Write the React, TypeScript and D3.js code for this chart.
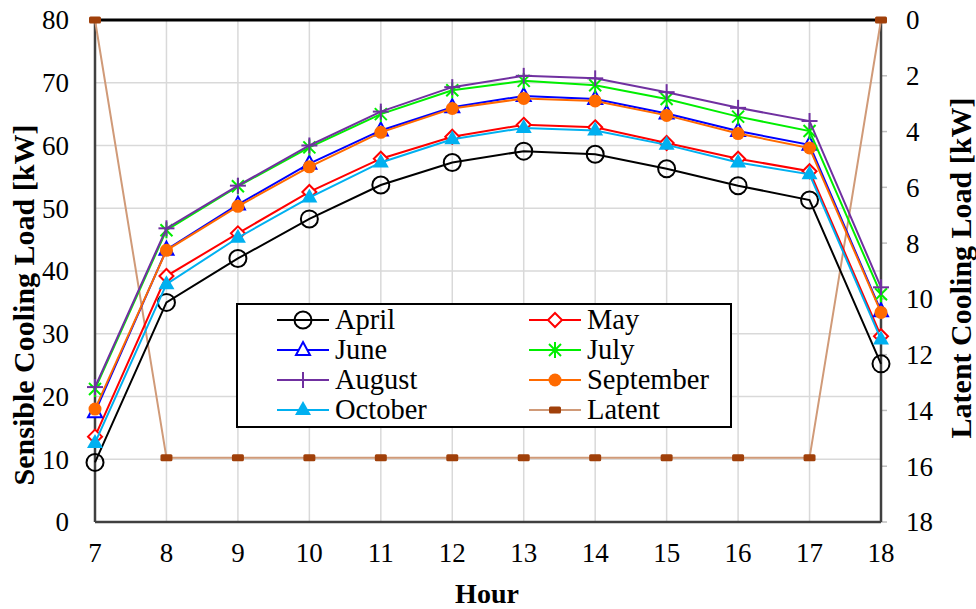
import React from "react";
import * as d3 from "d3";

const hours = [7, 8, 9, 10, 11, 12, 13, 14, 15, 16, 17, 18];
const april = [9.5, 35, 42, 48.3, 53.7, 57.3, 59.1, 58.6, 56.3, 53.6, 51.3, 25.2];
const may = [13.6, 39.2, 46, 52.6, 57.9, 61.4, 63.3, 62.9, 60.4, 57.9, 55.9, 29.6];
const june = [17.5, 43.4, 50.6, 57.1, 62.4, 66.1, 67.9, 67.4, 65.1, 62.3, 60.1, 33.6];
const july = [21.2, 46.5, 53.5, 59.7, 65.0, 68.8, 70.3, 69.6, 67.4, 64.6, 62.3, 36.3];
const august = [21.5, 46.8, 53.6, 60.0, 65.4, 69.3, 71.1, 70.7, 68.5, 66.0, 63.9, 37.4];
const september = [18.0, 43.3, 50.3, 56.6, 62.1, 65.9, 67.5, 67.1, 64.8, 61.9, 59.6, 33.4];
const october = [12.6, 37.9, 45.3, 51.7, 57.3, 61.0, 62.8, 62.4, 60.1, 57.3, 55.4, 29.1];
const latent = [0, 15.7, 15.7, 15.7, 15.7, 15.7, 15.7, 15.7, 15.7, 15.7, 15.7, 0];

const leftTicks = [0, 10, 20, 30, 40, 50, 60, 70, 80];
const rightTicks = [0, 2, 4, 6, 8, 10, 12, 14, 16, 18];

type Marker = "circle" | "diamond" | "triangle" | "asterisk" | "plus" | "dot" | "filledTriangle" | "square";

interface Series {
  name: string;
  values: number[];
  color: string;
  marker: Marker;
  lineColor?: string;
}

const series: Series[] = [
  { name: "April", values: april, color: "#000000", marker: "circle" },
  { name: "May", values: may, color: "#ff0000", marker: "diamond" },
  { name: "June", values: june, color: "#0000ff", marker: "triangle" },
  { name: "July", values: july, color: "#00ee00", marker: "asterisk" },
  { name: "August", values: august, color: "#7030a0", marker: "plus" },
  { name: "September", values: september, color: "#ff6a00", marker: "dot" },
  { name: "October", values: october, color: "#00b0f0", marker: "filledTriangle" },
];

const W = 976;
const H = 609;
const L = 95;
const R = 881;
const T = 20;
const B = 522;

const x = d3.scaleLinear().domain([7, 18]).range([L, R]);
const yL = d3.scaleLinear().domain([0, 80]).range([B, T]);
const yR = d3.scaleLinear().domain([0, 18]).range([T, B]);

const FONT = "Liberation Serif, Times New Roman, serif";
const txt = { fontFamily: FONT };

function MarkerShape({ type, cx, cy, color }: { type: Marker; cx: number; cy: number; color: string }) {
  switch (type) {
    case "circle":
      return <circle cx={cx} cy={cy} r={8.5} fill="none" stroke={color} strokeWidth={2} />;
    case "diamond":
      return (
        <path
          d={`M${cx},${cy - 7}L${cx + 7},${cy}L${cx},${cy + 7}L${cx - 7},${cy}Z`}
          fill="white"
          stroke={color}
          strokeWidth={2}
        />
      );
    case "triangle":
      return (
        <path
          d={`M${cx},${cy - 8}L${cx + 7},${cy + 5}L${cx - 7},${cy + 5}Z`}
          fill="white"
          stroke={color}
          strokeWidth={2}
        />
      );
    case "filledTriangle":
      return <path d={`M${cx},${cy - 9}L${cx + 8},${cy + 5}L${cx - 8},${cy + 5}Z`} fill={color} />;
    case "asterisk":
      return (
        <g stroke={color} strokeWidth={2}>
          <line x1={cx - 6} y1={cy - 6} x2={cx + 6} y2={cy + 6} />
          <line x1={cx - 6} y1={cy + 6} x2={cx + 6} y2={cy - 6} />
          <line x1={cx} y1={cy - 8} x2={cx} y2={cy + 8} />
        </g>
      );
    case "plus":
      return (
        <g stroke={color} strokeWidth={2}>
          <line x1={cx - 8} y1={cy} x2={cx + 8} y2={cy} />
          <line x1={cx} y1={cy - 8} x2={cx} y2={cy + 8} />
        </g>
      );
    case "dot":
      return <circle cx={cx} cy={cy} r={6.5} fill={color} />;
    case "square":
      return <rect x={cx - 6} y={cy - 3.5} width={12} height={7} rx={1.5} fill={color} />;
  }
}

export default function App() {
  const line = d3
    .line<number>()
    .x((_, i) => x(hours[i]))
    .y((v) => yL(v));
  const latentLine = d3
    .line<number>()
    .x((_, i) => x(hours[i]))
    .y((v) => yR(v));

  const legendRows = [
    [series[0], series[1]],
    [series[2], series[3]],
    [series[4], series[5]],
    [series[6], null],
  ];
  const latentLegend: Series = { name: "Latent", values: latent, color: "#a0400a", marker: "square", lineColor: "#d09a78" };

  return (
    <svg
      width={W}
      height={H}
      style={{ position: "absolute", left: 0, top: 0, background: "white", fontFamily: FONT }}
    >
      <rect width={W} height={H} fill="white" />
      {/* grid */}
      {leftTicks.map((t) => (
        <line key={"h" + t} x1={L} x2={R} y1={yL(t)} y2={yL(t)} stroke="#d9d9d9" strokeWidth={1.5} />
      ))}
      {hours.map((h) => (
        <line key={"v" + h} x1={x(h)} x2={x(h)} y1={T} y2={B} stroke="#d9d9d9" strokeWidth={1.5} />
      ))}
      {/* right axis minor ticks */}
      {rightTicks.map((t) => (
        <line key={"rt" + t} x1={R} x2={R + 6} y1={yR(t)} y2={yR(t)} stroke="#bfbfbf" strokeWidth={1.5} />
      ))}
      {/* frame */}
      <line x1={L} x2={L} y1={T} y2={B} stroke="#404040" strokeWidth={2.5} />
      <line x1={R} x2={R} y1={T} y2={B} stroke="#404040" strokeWidth={2.5} />
      <line x1={L} x2={R} y1={B} y2={B} stroke="#404040" strokeWidth={2.5} />
      <line x1={L} x2={R} y1={T} y2={T} stroke="#000" strokeWidth={3} />

      {/* latent load */}
      <path d={latentLine(latent) || ""} fill="none" stroke="#d09a78" strokeWidth={2} />
      {latent.map((v, i) => (
        <MarkerShape key={"lat" + i} type="square" cx={x(hours[i])} cy={yR(v)} color="#a0400a" />
      ))}

      {/* monthly sensible loads */}
      {series.map((s) => (
        <g key={s.name}>
          <path d={line(s.values) || ""} fill="none" stroke={s.color} strokeWidth={2} />
          {s.values.map((v, i) => (
            <MarkerShape key={i} type={s.marker} cx={x(hours[i])} cy={yL(v)} color={s.color} />
          ))}
        </g>
      ))}

      {/* tick labels */}
      {leftTicks.map((t) => (
        <text key={"lt" + t} x={69} y={yL(t)} dy="0.35em" textAnchor="end" fontSize={27} style={txt}>
          {t}
        </text>
      ))}
      {rightTicks.map((t) => (
        <text key={"rl" + t} x={906} y={yR(t)} dy="0.35em" textAnchor="start" fontSize={27} style={txt}>
          {t}
        </text>
      ))}
      {hours.map((h) => (
        <text key={"xt" + h} x={x(h)} y={562} textAnchor="middle" fontSize={27} style={txt}>
          {h}
        </text>
      ))}

      {/* axis titles */}
      <text x={487} y={603} textAnchor="middle" fontSize={28} fontWeight="bold" style={txt}>
        Hour
      </text>
      <text
        transform="translate(34,305) rotate(-90)"
        textAnchor="middle"
        fontSize={30}
        fontWeight="bold"
        style={txt}
      >
        Sensible Cooling Load [kW]
      </text>
      <text
        transform="translate(971,268) rotate(-90)"
        textAnchor="middle"
        fontSize={30}
        fontWeight="bold"
        style={txt}
      >
        Latent Cooling Load [kW]
      </text>

      {/* legend */}
      <rect x={237} y={304} width={494} height={123} fill="white" stroke="#000" strokeWidth={2} />
      {legendRows.map((row, r) =>
        [0, 1].map((c) => {
          const s = row[c] || latentLegend;
          const cy = 320 + r * 30;
          const x0 = c === 0 ? 277 : 529;
          const lc = s.lineColor || s.color;
          return (
            <g key={r + "-" + c}>
              <line x1={x0} x2={x0 + 52} y1={cy} y2={cy} stroke={lc} strokeWidth={2} />
              <MarkerShape type={s.marker} cx={x0 + 26} cy={cy} color={s.color} />
              <text x={x0 + 58} y={cy} dy="0.33em" fontSize={28.5} style={txt}>
                {s.name}
              </text>
            </g>
          );
        })
      )}
    </svg>
  );
}
